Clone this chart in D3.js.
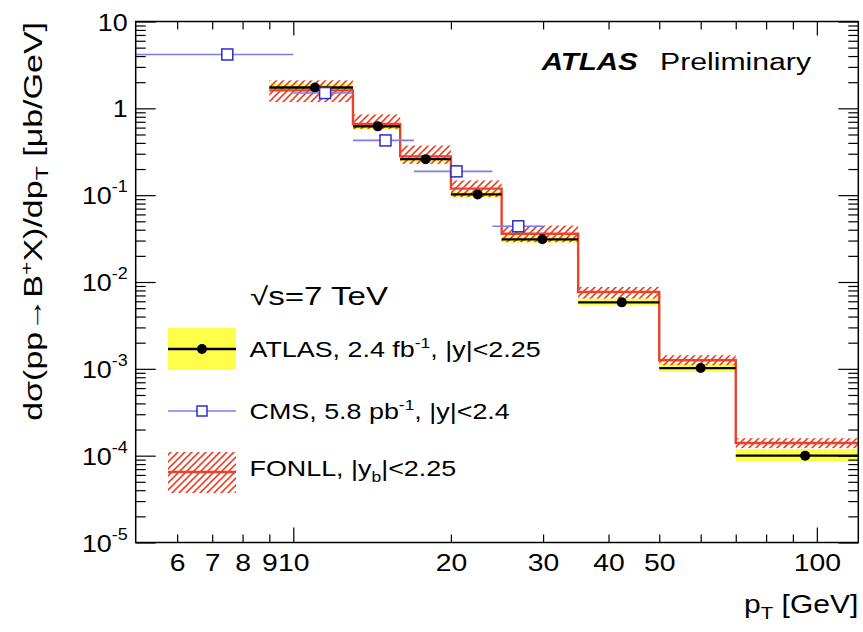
<!DOCTYPE html>
<html>
<head>
<meta charset="utf-8">
<script src="https://cdn.jsdelivr.net/npm/d3@7"></script>
<style>
  body { margin: 0; background: #fff; }
  svg { display: block; font-family: "Liberation Sans", Arial, Helvetica, sans-serif; }
</style>
</head>
<body>
<svg id="chart" width="863" height="632"></svg>
<script>
// ATLAS B+ differential cross section, pT bins in GeV, values in microbarn/GeV
const atlasBinLo = [9, 13, 16, 20, 25, 35, 50, 70];
const atlasBinHi = [13, 16, 20, 25, 35, 50, 70, 120];
const atlasPt = [11.0, 14.5, 17.9, 22.5, 29.9, 42.4, 60, 95];
const atlasXsec = [1.74, 0.62, 0.26, 0.102, 0.031, 0.00583, 0.00102, 1.0e-4];
const atlasSystUp = [1.92, 0.67, 0.28, 0.110, 0.0335, 0.00644, 0.00115, 1.19e-4];
const atlasSystDown = [1.54, 0.57, 0.24, 0.094, 0.0285, 0.0054, 0.00092, 0.85e-4];

// FONLL prediction per ATLAS bin, with its uncertainty band
const fonllXsec = [1.61, 0.66, 0.28, 0.119, 0.036, 0.00767, 0.001256, 1.40e-4];
const fonllUp = [2.10, 0.85, 0.373, 0.148, 0.0447, 0.00876, 0.001434, 1.59e-4];
const fonllDown = [1.18, 0.58, 0.229, 0.095, 0.0287, 0.00644, 0.00110, 1.22e-4];

// CMS measurement
const cmsBinLo = [5, 10, 13, 17, 24];
const cmsBinHi = [10, 13, 17, 24, 30];
const cmsPt = [7.48, 11.5, 15.0, 20.5, 26.9];
const cmsXsec = [4.17, 1.50, 0.427, 0.188, 0.0438];

// axis ticks
const xLabelTicks = [6, 7, 8, 9, 10, 20, 30, 40, 50, 100];
const xMinorTicks = [60, 70, 80, 90];
const xLongTicks = [10, 100];
const yDecades = [1e-5, 1e-4, 1e-3, 1e-2, 1e-1, 1, 10];
const yExponents = [-5, -4, -3, -2, -1, 0, 1];

const svg = d3.select("#chart");
const padL = 135.7, padR = 858.3, padT = 21.5, padB = 542.5;
const WIDE = 1.25; // the lettering is set wider than plain Liberation Sans

const x = d3.scaleLog().domain([5, 120]).range([padL, padR]);
const y = d3.scaleLog().domain([1e-5, 10]).range([padB, padT]);

const yellow = "#ffff4a";
const red = "#e9442a";
const blueLine = "#7c7cf0";
const blueMark = "#2c2cd0";

// text placed at (px,py) and stretched horizontally by sx
function wideText(parent, px, py, size, sx, anchor) {
  return parent.append("g").attr("transform", `translate(${px},${py}) scale(${sx},1)`)
    .append("text").attr("font-size", size).attr("text-anchor", anchor || "start");
}

// hatch pattern for the FONLL band
const defs = svg.append("defs");
defs.append("pattern")
  .attr("id", "hatch")
  .attr("patternUnits", "userSpaceOnUse")
  .attr("width", 7).attr("height", 7)
  .append("path")
  .attr("d", "M-1.75,1.75 L1.75,-1.75 M0,7 L7,0 M5.25,8.75 L8.75,5.25")
  .attr("stroke", red).attr("stroke-width", 1.6);

defs.append("clipPath").attr("id", "plotclip")
  .append("rect").attr("x", padL).attr("y", padT).attr("width", padR - padL).attr("height", padB - padT);

const plot = svg.append("g").attr("clip-path", "url(#plotclip)");
const idx = d3.range(atlasXsec.length);

// ATLAS systematic band
plot.selectAll("rect.syst").data(idx).join("rect")
  .attr("class", "syst")
  .attr("x", i => x(atlasBinLo[i]))
  .attr("width", i => x(atlasBinHi[i]) - x(atlasBinLo[i]))
  .attr("y", i => y(atlasSystUp[i]))
  .attr("height", i => y(atlasSystDown[i]) - y(atlasSystUp[i]))
  .attr("fill", yellow);

// FONLL hatched band
plot.selectAll("rect.fonll").data(idx).join("rect")
  .attr("class", "fonll")
  .attr("x", i => x(atlasBinLo[i]))
  .attr("width", i => x(atlasBinHi[i]) - x(atlasBinLo[i]))
  .attr("y", i => y(fonllUp[i]))
  .attr("height", i => y(fonllDown[i]) - y(fonllUp[i]))
  .attr("fill", "url(#hatch)");

// FONLL central step line
const stepPts = [];
idx.forEach(i => {
  stepPts.push([atlasBinLo[i], fonllXsec[i]]);
  stepPts.push([atlasBinHi[i], fonllXsec[i]]);
});
plot.append("path")
  .datum(stepPts)
  .attr("d", d3.line().x(d => x(d[0])).y(d => y(d[1])))
  .attr("fill", "none").attr("stroke", red).attr("stroke-width", 2.4);

// ATLAS bin lines and markers
plot.selectAll("line.atlas").data(idx).join("line")
  .attr("class", "atlas")
  .attr("x1", i => x(atlasBinLo[i])).attr("x2", i => x(atlasBinHi[i]))
  .attr("y1", i => y(atlasXsec[i])).attr("y2", i => y(atlasXsec[i]))
  .attr("stroke", "#000").attr("stroke-width", 2.4);

plot.selectAll("circle.atlas").data(idx).join("circle")
  .attr("class", "atlas")
  .attr("cx", i => x(atlasPt[i])).attr("cy", i => y(atlasXsec[i]))
  .attr("r", 5).attr("fill", "#000");

// CMS points with horizontal bars
const cidx = d3.range(cmsXsec.length);
plot.selectAll("line.cms").data(cidx).join("line")
  .attr("class", "cms")
  .attr("x1", i => x(cmsBinLo[i])).attr("x2", i => x(cmsBinHi[i]))
  .attr("y1", i => y(cmsXsec[i])).attr("y2", i => y(cmsXsec[i]))
  .attr("stroke", blueLine).attr("stroke-width", 1.6);

plot.selectAll("rect.cms").data(cidx).join("rect")
  .attr("class", "cms")
  .attr("x", i => x(cmsPt[i]) - 5.5).attr("y", i => y(cmsXsec[i]) - 5.5)
  .attr("width", 11).attr("height", 11)
  .attr("fill", "#fff").attr("stroke", blueMark).attr("stroke-width", 1.5);

// axes
const noDomain = g => g.select(".domain").remove();
const tickStyle = g => g.selectAll(".tick line").attr("stroke", "#000").attr("stroke-width", 1.2);

const xAxisMain = svg.append("g").attr("transform", `translate(0,${padB})`)
  .call(d3.axisBottom(x).tickValues(xLabelTicks).tickSize(-8).tickPadding(11).tickFormat(d3.format("d")))
  .call(noDomain).call(tickStyle);
xAxisMain.attr("font-family", null).attr("font-size", null);
xAxisMain.selectAll(".tick").filter(d => xLongTicks.includes(d)).select("line").attr("y2", -15);
xAxisMain.selectAll(".tick text").attr("font-size", 24).attr("fill", "#000")
  .attr("transform", "scale(1.18,1)");

svg.append("g").attr("transform", `translate(0,${padB})`)
  .call(d3.axisBottom(x).tickValues(xMinorTicks).tickSize(-8).tickFormat(""))
  .call(noDomain).call(tickStyle);

const xTop = svg.append("g").attr("transform", `translate(0,${padT})`)
  .call(d3.axisTop(x).tickValues(xLabelTicks.concat(xMinorTicks)).tickSize(-8).tickFormat(""))
  .call(noDomain).call(tickStyle);
xTop.selectAll(".tick").filter(d => xLongTicks.includes(d)).select("line").attr("y2", 14);

const yMinor = [];
yDecades.slice(0, -1).forEach(d => { for (let k = 2; k <= 9; k++) yMinor.push(d * k); });

const yAxisMain = svg.append("g").attr("transform", `translate(${padL},0)`)
  .call(d3.axisLeft(y).tickValues(yDecades).tickSize(-20).tickPadding(8).tickFormat(""))
  .call(noDomain).call(tickStyle);
yAxisMain.attr("font-family", null).attr("font-size", null);
svg.append("g").attr("transform", `translate(${padL},0)`)
  .call(d3.axisLeft(y).tickValues(yMinor).tickSize(-10).tickFormat(""))
  .call(noDomain).call(tickStyle);
svg.append("g").attr("transform", `translate(${padR},0)`)
  .call(d3.axisRight(y).tickValues(yDecades).tickSize(-20).tickFormat(""))
  .call(noDomain).call(tickStyle);
svg.append("g").attr("transform", `translate(${padR},0)`)
  .call(d3.axisRight(y).tickValues(yMinor).tickSize(-10).tickFormat(""))
  .call(noDomain).call(tickStyle);

// power-of-ten labels on the y axis
yAxisMain.selectAll(".tick text").each(function (d) {
  const e = yExponents[yDecades.indexOf(d)];
  const t = d3.select(this).attr("font-size", 24).attr("fill", "#000")
    .attr("dy", "0.36em").attr("x", -8 / 1.12).attr("transform", "scale(1.12,1)").text(null);
  if (e === 0) { t.text("1"); return; }
  if (e === 1) { t.text("10"); return; }
  t.append("tspan").text("10");
  t.append("tspan").attr("font-size", 16).attr("dy", "-0.75em").text(String(e));
});

// frame
svg.append("rect").attr("x", padL).attr("y", padT).attr("width", padR - padL).attr("height", padB - padT)
  .attr("fill", "none").attr("stroke", "#000").attr("stroke-width", 1.5);

// axis titles
const xt = wideText(svg, padR, 613, 25, 1.2, "end");
xt.append("tspan").text("p");
xt.append("tspan").attr("font-size", 17).attr("dy", 6).text("T");
xt.append("tspan").attr("dy", -6).text(" [GeV]");

const yt = svg.append("g").attr("transform", "translate(42,22) rotate(-90) scale(1.36,1)")
  .append("text").attr("text-anchor", "end").attr("font-size", 25);
yt.append("tspan").text("d\u03c3(pp\u2192B");
yt.append("tspan").attr("font-size", 17).attr("dy", -10).text("+");
yt.append("tspan").attr("dy", 10).text("X)/dp");
yt.append("tspan").attr("font-size", 17).attr("dy", 6).text("T");
yt.append("tspan").attr("dy", -6).text(" [\u03bcb/GeV]");

// experiment label
svg.append("text").attr("x", 541.7).attr("y", 70).attr("font-size", 23)
  .attr("font-weight", "bold").attr("font-style", "italic")
  .attr("textLength", 96).attr("lengthAdjust", "spacingAndGlyphs").text("ATLAS");
svg.append("text").attr("x", 660).attr("y", 70).attr("font-size", 23)
  .attr("textLength", 151).attr("lengthAdjust", "spacingAndGlyphs").text("Preliminary");

// legend
svg.append("text").attr("x", 250).attr("y", 305).attr("font-size", 25)
  .attr("textLength", 138).attr("lengthAdjust", "spacingAndGlyphs").text("\u221As=7 TeV");

const lg = svg.append("g");
lg.append("rect").attr("x", 168).attr("y", 328).attr("width", 68).attr("height", 42).attr("fill", yellow);
lg.append("line").attr("x1", 168).attr("x2", 236).attr("y1", 349).attr("y2", 349).attr("stroke", "#000").attr("stroke-width", 2.4);
lg.append("circle").attr("cx", 202).attr("cy", 349).attr("r", 5).attr("fill", "#000");
const t1 = wideText(lg, 249.5, 357, 21.5, WIDE);
t1.append("tspan").text("ATLAS, 2.4 fb");
t1.append("tspan").attr("font-size", 14).attr("dy", -9).text("-1");
t1.append("tspan").attr("dy", 9).text(", |y|<2.25");

lg.append("line").attr("x1", 168).attr("x2", 236).attr("y1", 411).attr("y2", 411).attr("stroke", blueLine).attr("stroke-width", 1.6);
lg.append("rect").attr("x", 197).attr("y", 406).attr("width", 10).attr("height", 10)
  .attr("fill", "#fff").attr("stroke", blueMark).attr("stroke-width", 1.5);
const t2 = wideText(lg, 249.5, 419, 21.5, WIDE);
t2.append("tspan").text("CMS, 5.8 pb");
t2.append("tspan").attr("font-size", 14).attr("dy", -9).text("-1");
t2.append("tspan").attr("dy", 9).text(", |y|<2.4");

lg.append("rect").attr("x", 168).attr("y", 452).attr("width", 68).attr("height", 41).attr("fill", "url(#hatch)");
lg.append("line").attr("x1", 168).attr("x2", 236).attr("y1", 472).attr("y2", 472).attr("stroke", red).attr("stroke-width", 2.4);
const t3 = wideText(lg, 249.5, 476, 21.5, WIDE);
t3.append("tspan").text("FONLL, |y");
t3.append("tspan").attr("font-size", 14).attr("dy", 6).text("b");
t3.append("tspan").attr("dy", -6).text("|<2.25");
</script>
</body>
</html>
